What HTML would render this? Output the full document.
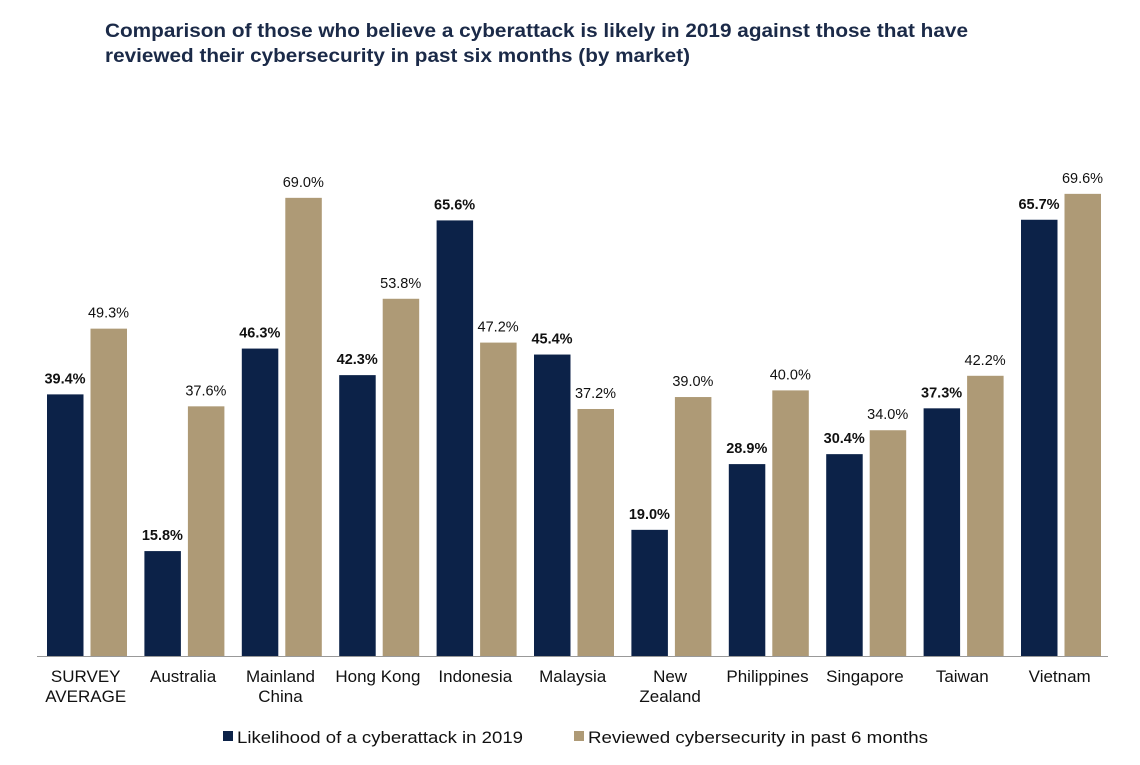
<!DOCTYPE html>
<html><head><meta charset="utf-8"><style>
body{margin:0;background:#fff;width:1140px;height:760px;overflow:hidden;font-family:"Liberation Sans",Arial,sans-serif}
</style></head><body>
<svg width="1140" height="760" xmlns="http://www.w3.org/2000/svg">
<text x="105" y="37" font-size="19" font-weight="bold" fill="#1b2a48" textLength="863" lengthAdjust="spacingAndGlyphs">Comparison of those who believe a cyberattack is likely in 2019 against those that have</text>
<text x="105" y="62" font-size="19" font-weight="bold" fill="#1b2a48" textLength="585" lengthAdjust="spacingAndGlyphs">reviewed their cybersecurity in past six months (by market)</text>
<g id="plot"></g>
<line x1="37" y1="656.5" x2="1108" y2="656.5" stroke="#999" stroke-width="1"/>
<g>
<rect x="223" y="731" width="10" height="10" fill="#0c2248"/>
<text x="237" y="743" font-size="17" fill="#111" textLength="286" lengthAdjust="spacingAndGlyphs">Likelihood of a cyberattack in 2019</text>
<rect x="574" y="731" width="10" height="10" fill="#ae9a76"/>
<text x="588" y="743" font-size="17" fill="#111" textLength="340" lengthAdjust="spacingAndGlyphs">Reviewed cybersecurity in past 6 months</text>
</g>
</svg>
<script>
const categories=[["SURVEY","AVERAGE"],["Australia"],["Mainland","China"],["Hong Kong"],["Indonesia"],["Malaysia"],["New","Zealand"],["Philippines"],["Singapore"],["Taiwan"],["Vietnam"]];
const likelihood=[39.4,15.8,46.3,42.3,65.6,45.4,19.0,28.9,30.4,37.3,65.7];
const reviewed=[49.3,37.6,69.0,53.8,47.2,37.2,39.0,40.0,34.0,42.2,69.6];
const NS="http://www.w3.org/2000/svg";
const g=document.getElementById('plot');
const x0=37,gw=97.4,base=656,k=6.64;
const y=v=>base-v*k;
function mk(t,a){const e=document.createElementNS(NS,t);for(const n in a)e.setAttribute(n,a[n]);g.appendChild(e);return e;}
categories.forEach((c,i)=>{
 const gx=x0+i*gw;
 [[likelihood[i],10,"#0c2248","bold","likelihood"],[reviewed[i],53.5,"#ae9a76","normal","reviewed"]].forEach(([v,off,col,fw,nm])=>{
  const r=mk('rect',{x:gx+off,y:y(v),width:36.5,height:v*k,fill:col});
  
  
  const t=mk('text',{x:gx+off+18,y:y(v)-11,'font-size':14.5,'font-weight':fw,fill:'#111','text-anchor':'middle'});
  t.textContent=v.toFixed(1)+'%';
  
  
 });
 c.forEach((line,j)=>{
  const t=mk('text',{x:gx+gw/2,y:682+j*20,'font-size':17,fill:'#111','text-anchor':'middle'});
  t.textContent=line;
  
  
 });
});
</script>
</body></html>
